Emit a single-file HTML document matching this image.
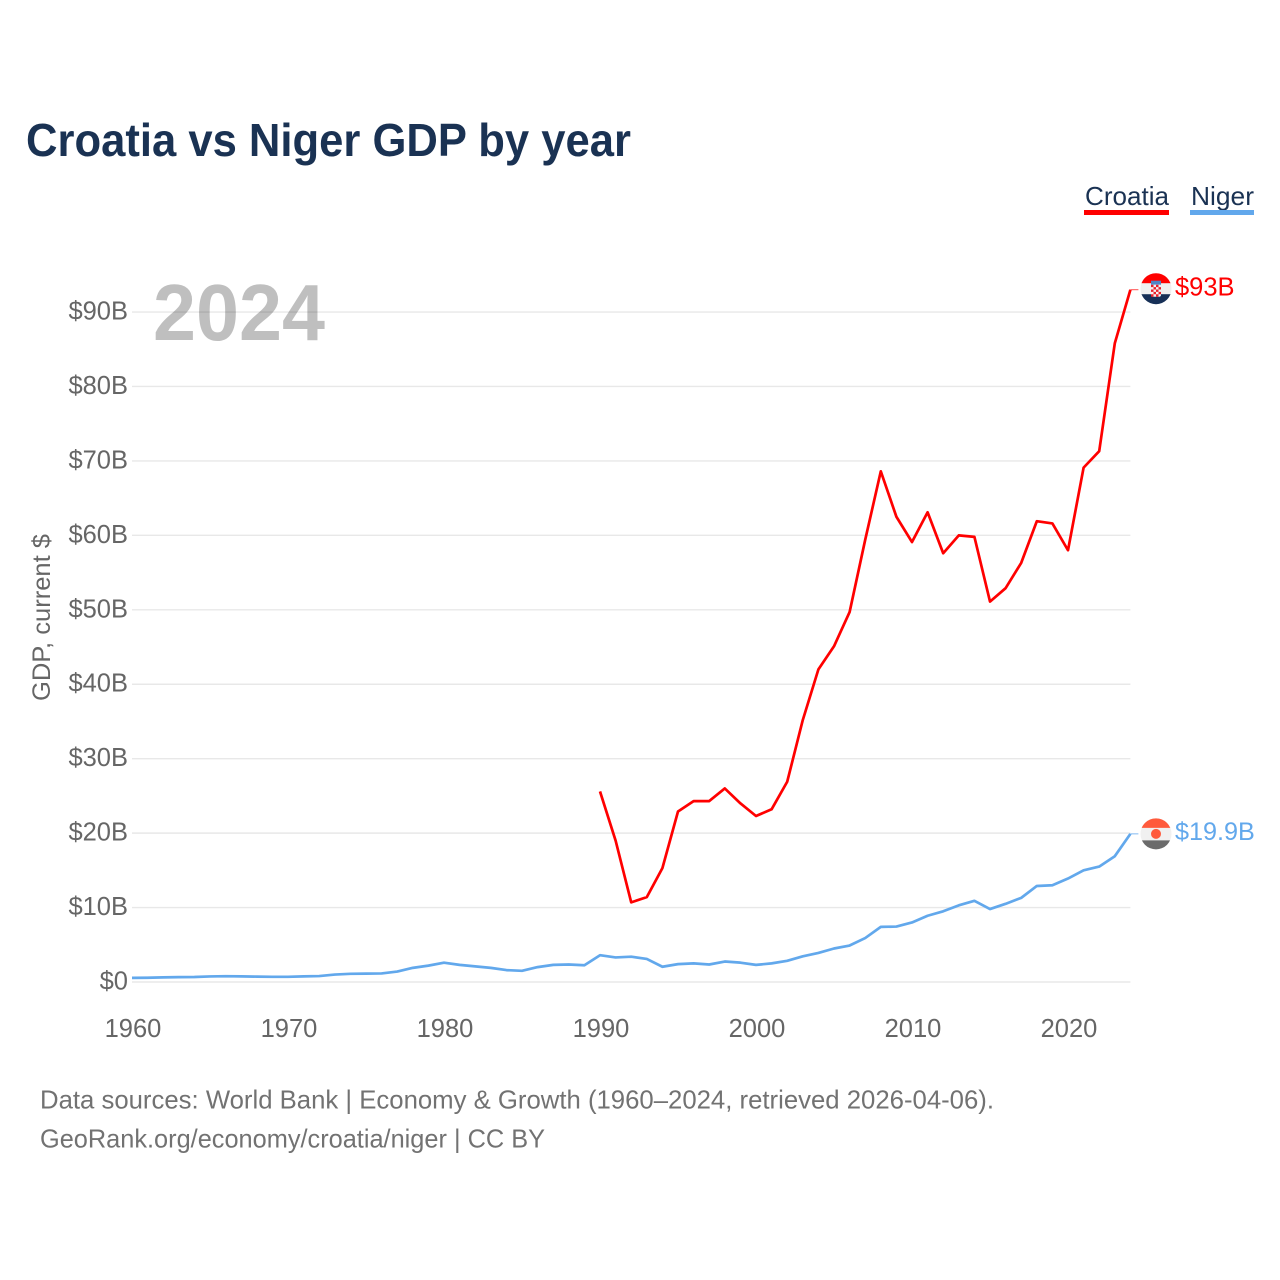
<!DOCTYPE html>
<html lang="en">
<head>
<meta charset="utf-8">
<title>Croatia vs Niger GDP by year</title>
<style>
  html, body { margin: 0; padding: 0; background: #ffffff; }
  #chart { display: block; width: 1280px; height: 1280px; font-family: "Liberation Sans", Arial, sans-serif; }
</style>
</head>
<body>
<svg id="chart" xmlns="http://www.w3.org/2000/svg" width="1280" height="1280" viewBox="0 0 1280 1280">
  <rect x="0" y="0" width="1280" height="1280" fill="#ffffff"/>
  <text x="26" y="156" font-size="46" font-weight="700" fill="#1a3253" textLength="605" lengthAdjust="spacingAndGlyphs">Croatia vs Niger GDP by year</text>

  <g>
    <g>
      <text x="1085" y="205" font-size="26" fill="#1a3253" textLength="84" lengthAdjust="spacingAndGlyphs">Croatia</text>
      <rect x="1084" y="210" width="85" height="5" fill="#ff0000"/>
    </g>
    <g>
      <text x="1191" y="205" font-size="26" fill="#1a3253" textLength="63" lengthAdjust="spacingAndGlyphs">Niger</text>
      <rect x="1190" y="210" width="64" height="5" fill="#62a8ec"/>
    </g>
  </g>

  <g id="grid"></g>
  <g id="y-ticks"></g>
  <g id="x-ticks"></g>

  <text transform="translate(50,701) rotate(-90)" font-size="25" fill="#666666" textLength="167" lengthAdjust="spacingAndGlyphs">GDP, current $</text>

  <text x="153" y="340" font-size="80" font-weight="700" fill="#000000" fill-opacity="0.25" textLength="172" lengthAdjust="spacingAndGlyphs">2024</text>

  <g id="series"></g>

  <defs>
    <clipPath id="flag-clip-hr"><circle id="clip-hr" cx="1156" r="15.5"/></clipPath>
    <clipPath id="flag-clip-ne"><circle id="clip-ne" cx="1156" r="15.5"/></clipPath>
  </defs>

  <g id="flag-hr" clip-path="url(#flag-clip-hr)">
    <rect x="1140" y="-16" width="32" height="32" fill="#f0f0f0"/>
    <rect x="1140" y="-16" width="32" height="10.5" fill="#ff0000"/>
    <rect x="1140" y="5.5" width="32" height="11" fill="#173057"/>
    <rect x="1151" y="-8" width="10" height="4" fill="#4f86c6"/>
    <rect x="1151" y="-4" width="10" height="12" rx="2" fill="#f4f4f4"/>
    <path d="M1151 -4h2.5v2.4h-2.5zM1156 -4h2.5v2.4h-2.5zM1153.500 -1.600h2.500v2.400h-2.500zM1158.500 -1.600h2.500v2.400h-2.500zM1151 0.800h2.500v2.400h-2.500zM1156 0.800h2.500v2.400h-2.500zM1153.500 3.200h2.500v2.400h-2.500zM1158.500 3.200h2.500v2.400h-2.500zM1151 5.600h2.500v2.400h-2.500zM1156 5.600h2.500v2.400h-2.500z" fill="#e8202a"/>
  </g>
  <g id="flag-ne" clip-path="url(#flag-clip-ne)">
    <rect x="1140" y="-16" width="32" height="32" fill="#f0f0f0"/>
    <rect x="1140" y="-16" width="32" height="10" fill="#ff5a3c"/>
    <rect x="1140" y="6.500" width="32" height="10" fill="#6b6b6b"/>
    <circle cx="1156" cy="0" r="5" fill="#ff5a3c"/>
  </g>

  <g id="end-labels"></g>

  <text x="40" y="1108.500" font-size="26" fill="#727272" textLength="954" lengthAdjust="spacingAndGlyphs">Data sources: World Bank | Economy &amp; Growth (1960–2024, retrieved 2026-04-06).</text>
  <text x="40" y="1147.500" font-size="26" fill="#727272" textLength="505" lengthAdjust="spacingAndGlyphs">GeoRank.org/economy/croatia/niger | CC BY</text>
</svg>

<script>
const yTickValues = [0, 10, 20, 30, 40, 50, 60, 70, 80, 90];
const xTickYears = [1960, 1970, 1980, 1990, 2000, 2010, 2020];
const years = [1960,1961,1962,1963,1964,1965,1966,1967,1968,1969,1970,1971,1972,1973,1974,1975,1976,1977,1978,1979,1980,1981,1982,1983,1984,1985,1986,1987,1988,1989,1990,1991,1992,1993,1994,1995,1996,1997,1998,1999,2000,2001,2002,2003,2004,2005,2006,2007,2008,2009,2010,2011,2012,2013,2014,2015,2016,2017,2018,2019,2020,2021,2022,2023,2024];
const croatiaYears = [1990,1991,1992,1993,1994,1995,1996,1997,1998,1999,2000,2001,2002,2003,2004,2005,2006,2007,2008,2009,2010,2011,2012,2013,2014,2015,2016,2017,2018,2019,2020,2021,2022,2023,2024];
const croatiaValues = [25.6,19.0,10.7,11.4,15.3,22.9,24.3,24.3,26.0,24.0,22.3,23.2,26.9,35.2,42.0,45.1,49.7,59.4,68.6,62.5,59.1,63.1,57.6,60.0,59.8,51.1,52.9,56.3,61.9,61.6,58.0,69.1,71.3,85.8,93.0];
const nigerValues = [0.55,0.57,0.62,0.65,0.67,0.75,0.78,0.76,0.72,0.7,0.7,0.76,0.8,1.0,1.1,1.12,1.15,1.4,1.9,2.2,2.6,2.3,2.1,1.9,1.6,1.5,2.0,2.3,2.35,2.25,3.6,3.3,3.4,3.1,2.05,2.4,2.5,2.35,2.75,2.6,2.3,2.5,2.85,3.45,3.9,4.5,4.9,5.9,7.4,7.45,8.0,8.9,9.5,10.3,10.9,9.8,10.5,11.3,12.9,13.0,13.9,15.0,15.5,16.9,19.9];
const croatiaEndLabel = '$93B';
const nigerEndLabel = '$19.9B';

const SVG_NS = 'http://www.w3.org/2000/svg';
const xScale = (year) => 132 + (year - 1960) * 15.6;
const yScale = (value) => 982 - value * 7.444;

function make(tag, parent) {
  const el = document.createElementNS(SVG_NS, tag);
  parent.appendChild(el);
  return el;
}

const gridLayer = document.getElementById('grid');
const yTickLayer = document.getElementById('y-ticks');
const xTickLayer = document.getElementById('x-ticks');
const seriesLayer = document.getElementById('series');
const endLabelLayer = document.getElementById('end-labels');

yTickValues.forEach((value) => {
  const line = make('line', gridLayer);
  
  
  line.setAttribute('x1', xScale(1960));
  line.setAttribute('x2', xScale(2024));
  line.setAttribute('y1', yScale(value));
  line.setAttribute('y2', yScale(value));
  line.setAttribute('stroke', '#e8e8e8');
  line.setAttribute('stroke-width', '1.4');

  const label = make('text', yTickLayer);
  
  
  label.setAttribute('x', 128);
  label.setAttribute('y', yScale(value) + 7.5);
  label.setAttribute('text-anchor', 'end');
  label.setAttribute('font-size', '25.5');
  label.setAttribute('fill', '#666666');
  label.textContent = value === 0 ? '$0' : '$' + value + 'B';
});

xTickYears.forEach((year) => {
  const label = make('text', xTickLayer);
  
  
  label.setAttribute('x', xScale(year) + 1);
  label.setAttribute('y', 1037);
  label.setAttribute('text-anchor', 'middle');
  label.setAttribute('font-size', '25.5');
  label.setAttribute('fill', '#666666');
  label.textContent = String(year);
});

function pathFor(xs, ys) {
  return xs.map((year, i) => (i ? 'L' : 'M') + xScale(year).toFixed(2) + ' ' + yScale(ys[i]).toFixed(2)).join(' ');
}

const nigerLine = make('path', seriesLayer);


nigerLine.setAttribute('d', pathFor(years, nigerValues));
nigerLine.setAttribute('fill', 'none');
nigerLine.setAttribute('stroke', '#62a8ec');
nigerLine.setAttribute('stroke-width', '2.7');
nigerLine.setAttribute('stroke-linejoin', 'round');

const croatiaLine = make('path', seriesLayer);


croatiaLine.setAttribute('d', pathFor(croatiaYears, croatiaValues));
croatiaLine.setAttribute('fill', 'none');
croatiaLine.setAttribute('stroke', '#ff0000');
croatiaLine.setAttribute('stroke-width', '2.7');
croatiaLine.setAttribute('stroke-linejoin', 'round');

const croatiaEndY = yScale(croatiaValues[croatiaValues.length - 1]);
const nigerEndY = yScale(nigerValues[nigerValues.length - 1]);

const croatiaLeader = make('line', seriesLayer);


croatiaLeader.setAttribute('x1', xScale(2024));
croatiaLeader.setAttribute('x2', xScale(2024) + 8);
croatiaLeader.setAttribute('y1', croatiaEndY);
croatiaLeader.setAttribute('y2', croatiaEndY);
croatiaLeader.setAttribute('stroke', '#ff0000');
croatiaLeader.setAttribute('stroke-opacity', '0.7');
croatiaLeader.setAttribute('stroke-width', '1');

const nigerLeader = make('line', seriesLayer);


nigerLeader.setAttribute('x1', xScale(2024));
nigerLeader.setAttribute('x2', xScale(2024) + 8);
nigerLeader.setAttribute('y1', nigerEndY);
nigerLeader.setAttribute('y2', nigerEndY);
nigerLeader.setAttribute('stroke', '#62a8ec');
nigerLeader.setAttribute('stroke-opacity', '0.8');
nigerLeader.setAttribute('stroke-width', '1');

document.getElementById('flag-hr').setAttribute('transform', 'translate(0,' + (croatiaEndY - 1) + ')');
document.getElementById('flag-ne').setAttribute('transform', 'translate(0,' + nigerEndY + ')');
document.getElementById('clip-hr').setAttribute('cy', 0);
document.getElementById('clip-ne').setAttribute('cy', 0);

const croatiaLabel = make('text', endLabelLayer);


croatiaLabel.setAttribute('x', 1175);
croatiaLabel.setAttribute('y', croatiaEndY + 6);
croatiaLabel.setAttribute('font-size', '25.5');
croatiaLabel.setAttribute('fill', '#ff0000');
croatiaLabel.textContent = croatiaEndLabel;

const nigerLabel = make('text', endLabelLayer);


nigerLabel.setAttribute('x', 1175);
nigerLabel.setAttribute('y', nigerEndY + 6);
nigerLabel.setAttribute('font-size', '25.2');
nigerLabel.setAttribute('fill', '#62a8ec');
nigerLabel.textContent = nigerEndLabel;
</script>
</body>
</html>
